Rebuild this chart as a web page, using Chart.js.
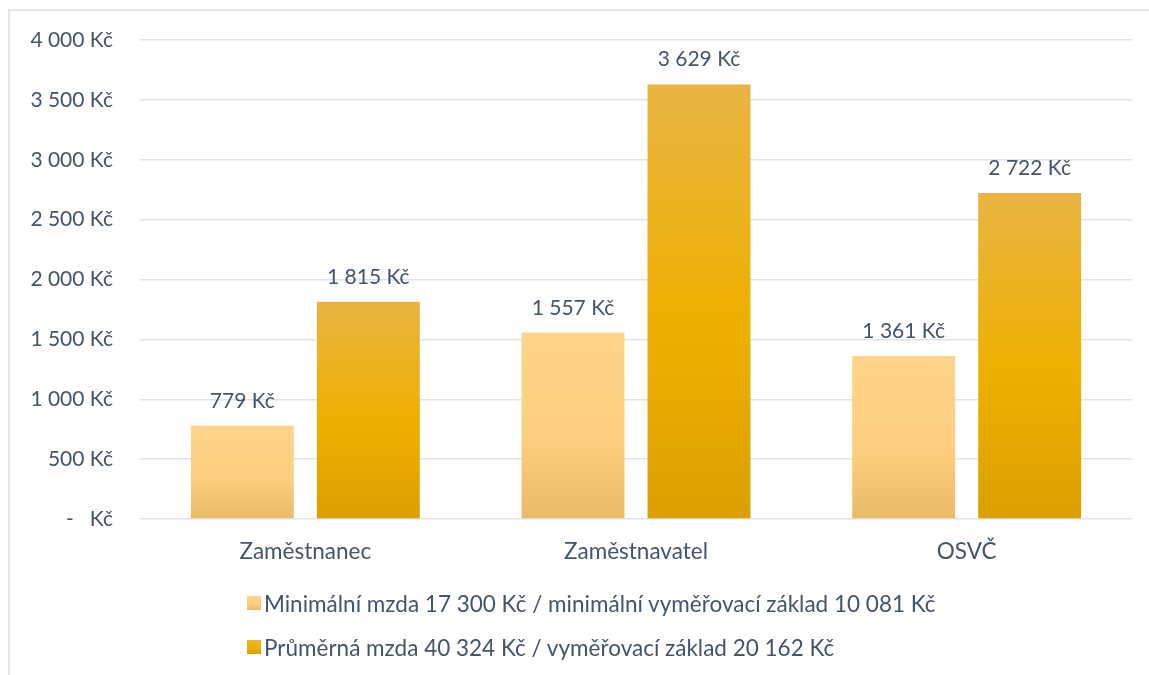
<!DOCTYPE html>
<html>
<head>
<meta charset="utf-8">
<script src="https://cdn.jsdelivr.net/npm/chart.js@4"></script>
<style>
  body { margin: 0; background: #fff; font-family: Lato, sans-serif; }
  #wrap { position: relative; width: 1149px; height: 675px; overflow: hidden; }
  #frame { position: absolute; left: 8px; top: 9px; width: 1200px; height: 700px; border: 2px solid #e3e7ed; box-sizing: border-box; }
  canvas { position: absolute; left: 0; top: 0; }
  #legend { position: absolute; left: 247px; top: 581px; color: #44546a; font-size: 22.5px; }
  .item { display: flex; align-items: center; height: 44px; }
  .box { width: 14px; height: 14px; margin-right: 3px; }
</style>
</head>
<body>
<div id="wrap">
  <div id="frame"></div>
  <canvas id="graf" width="1149" height="675"></canvas>
  <div id="legend"></div>
</div>
<script>
const kategorie = ['Zaměstnanec', 'Zaměstnavatel', 'OSVČ'];
const minimalni = [779, 1557, 1361];
const prumerna  = [1815, 3629, 2722];
const nazvy = [
  'Minimální mzda 17 300 Kč / minimální vyměřovací základ 10 081 Kč',
  'Průměrná mzda 40 324 Kč / vyměřovací základ 20 162 Kč'
];
const textBarva = '#44546a';
const svetla = ['#fdd48a', '#fdcf80', '#e8bb68'];
const tmava  = ['#e9b443', '#eeb000', '#dba000'];

const kc = v => v === 0 ? '-   Kč' : v.toString().replace(/\B(?=(\d{3})+(?!\d))/g, ' ') + ' Kč';

function gradient(stops) {
  return (ctx) => {
    const chart = ctx.chart;
    if (!chart.chartArea || ctx.raw === undefined) return stops[1];
    const y = chart.scales.y;
    const top = y.getPixelForValue(ctx.raw);
    const bottom = y.getPixelForValue(0);
    const g = chart.ctx.createLinearGradient(0, top, 0, bottom);
    g.addColorStop(0, stops[0]);
    g.addColorStop(0.55, stops[1]);
    g.addColorStop(1, stops[2]);
    return g;
  };
}

const popisky = {
  id: 'popisky',
  afterDatasetsDraw(chart) {
    const c = chart.ctx;
    c.save();
    c.font = '21px Lato';
    c.fillStyle = textBarva;
    c.textAlign = 'center';
    c.textBaseline = 'alphabetic';
    chart.data.datasets.forEach((ds, i) => {
      chart.getDatasetMeta(i).data.forEach((bar, j) => {
        c.fillText(kc(ds.data[j]), bar.x, bar.y - 18);
      });
    });
    c.restore();
  }
};

new Chart(document.getElementById('graf'), {
  type: 'bar',
  data: {
    labels: kategorie,
    datasets: [
      { label: nazvy[0], data: minimalni, backgroundColor: gradient(svetla) },
      { label: nazvy[1], data: prumerna, backgroundColor: gradient(tmava) }
    ]
  },
  options: {
    responsive: false,
    animation: false,
    categoryPercentage: 0.762,
    barPercentage: 0.817,
    layout: { padding: { top: 40, right: 17, left: 0, bottom: 0 } },
    plugins: { legend: { display: false }, tooltip: { enabled: false } },
    scales: {
      y: {
        min: 0, max: 4000,
        ticks: { stepSize: 500, padding: 27, color: textBarva, font: { family: 'Lato', size: 21 }, callback: kc },
        grid: { color: '#dfe3e9', lineWidth: 1.5, drawTicks: false },
        border: { display: false },
        afterFit: s => { s.width = 140; }
      },
      x: {
        ticks: { padding: 19, color: textBarva, font: { family: 'Lato', size: 22.5 } },
        grid: { display: false, drawTicks: false },
        border: { display: false },
        afterFit: s => { s.height = 156; }
      }
    }
  },
  plugins: [popisky]
});

const legenda = document.getElementById('legend');
[svetla, tmava].forEach((barvy, i) => {
  const row = document.createElement('div');
  row.className = 'item';
  const box = document.createElement('span');
  box.className = 'box';
  box.style.background = 'linear-gradient(' + barvy[0] + ',' + barvy[1] + ' 55%,' + barvy[2] + ')';
  const t = document.createElement('span');
  t.textContent = nazvy[i];
  row.appendChild(box);
  row.appendChild(t);
  legenda.appendChild(row);
});
</script>
</body>
</html>
